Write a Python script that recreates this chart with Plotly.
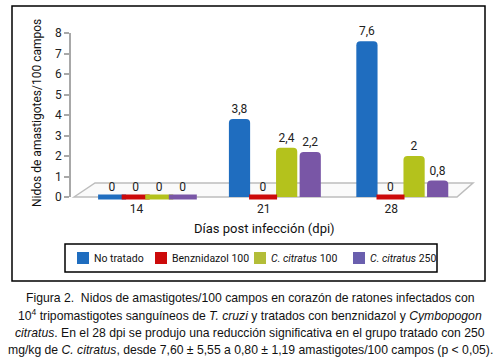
import plotly.graph_objects as go

categories = ["14", "21", "28"]
series_names = ["No tratado", "Benznidazol 100", "<i>C. citratus</i> 100", "<i>C. citratus</i> 250"]
no_tratado = [0, 3.8, 7.6]
benznidazol_100 = [0, 0, 0]
citratus_100 = [0, 2.4, 2.0]
citratus_250 = [0, 2.2, 0.8]
y_ticks = [0, 1, 2, 3, 4, 5, 6, 7, 8]

series_values = [no_tratado, benznidazol_100, citratus_100, citratus_250]
colors = ["#1f6dbf", "#cc0a0a", "#b4c21c", "#7956a6"]
legend_colors = ["#1f6dbf", "#cc0a0a", "#b3bd38", "#6a5fae"]

W, H = 500, 364
ML, MR, MT, MB = 71, 34, 33, 167
PW, PH = W - ML - MR, H - MT - MB


def px(x):
    return (x - ML) / PW


def py(y):
    return (H - MB - y) / PH


FONT = "Roboto, Liberation Sans, sans-serif"

fig = go.Figure()
for name, vals, col in zip(series_names, series_values, colors):
    fig.add_trace(go.Bar(
        x=categories, y=vals, name=name, showlegend=False,
        marker=dict(color=col, line=dict(width=0)),
        text=[("%g" % v).replace(".", ",") for v in vals],
        textposition="outside", cliponaxis=False,
        textfont=dict(family=FONT, size=12, color="#222"),
    ))

for name, vals, col in zip(series_names, series_values, colors):
    zx = [c for c, v in zip(categories, vals) if v == 0]
    zy = [v for v in vals if v == 0]
    fig.add_trace(go.Scatter(
        x=zx, y=zy, mode="markers", showlegend=False, hoverinfo="skip",
        marker=dict(symbol="line-ew", size=20, color=col,
                    line=dict(color=col, width=5)),
        cliponaxis=False,
    ))

shapes = [
    # outer frame
    dict(type="rect", xref="paper", yref="paper",
         x0=px(12), x1=px(485), y0=py(281), y1=py(6),
         line=dict(color="black", width=1.5), layer="below"),
    # 3D floor
    dict(type="path", xref="paper", yref="paper",
         path="M %f %f L %f %f L %f %f L %f %f Z" % (
             px(74), py(197), px(95), py(183), px(473), py(183), px(457), py(197)),
         line=dict(color="#bdbdbd", width=1.5), fillcolor="#fafafa", layer="below"),
    # legend frame
    dict(type="rect", xref="paper", yref="paper",
         x0=px(65), x1=px(437), y0=py(272), y1=py(244),
         line=dict(color="black", width=1.5), fillcolor="white", layer="below"),
]

annotations = [
    dict(text="Días post infección (dpi)", xref="paper", yref="paper",
         x=px(264), y=py(228), showarrow=False, xanchor="center", yanchor="middle",
         font=dict(family=FONT, size=13, color="#111")),
    dict(text="Nidos de amastigotes/100 campos", xref="paper", yref="paper",
         x=px(37), y=py(113), showarrow=False, xanchor="center", yanchor="middle",
         textangle=-90, font=dict(family=FONT, size=12, color="#111")),
]

# legend (swatches + labels)
legend_x = [77, 155, 254, 353]
for name, col, lx in zip(series_names, legend_colors, legend_x):
    shapes.append(dict(type="rect", xref="paper", yref="paper",
                       x0=px(lx), x1=px(lx + 12), y0=py(264), y1=py(252),
                       line=dict(width=0), fillcolor=col))
    annotations.append(dict(text=name, xref="paper", yref="paper",
                            x=px(lx + 15), y=py(258), showarrow=False,
                            xanchor="left", yanchor="middle",
                            font=dict(family=FONT, size=10.5, color="#111")))

caption = [
    "Figura 2.  Nidos de amastigotes/100 campos en corazón de ratones infectados con",
    "10<sup>4</sup> tripomastigotes sanguíneos de <i>T. cruzi</i> y tratados con benznidazol y <i>Cymbopogon</i>",
    "<i>citratus</i>. En el 28 dpi se produjo una reducción significativa en el grupo tratado con 250",
    "mg/kg de <i>C. citratus</i>, desde 7,60 ± 5,55 a 0,80 ± 1,19 amastigotes/100 campos (p &lt; 0,05).",
]
for i, line in enumerate(caption):
    annotations.append(dict(
        text=line, xref="paper", yref="paper", x=px(250), y=py(298 + 17.3 * i),
        showarrow=False, xanchor="center", yanchor="middle",
        font=dict(family="Liberation Sans, Arial, sans-serif", size=12.2, color="#111")))

fig.update_layout(
    width=W, height=H,
    margin=dict(l=ML, r=MR, t=MT, b=MB, autoexpand=False),
    paper_bgcolor="white", plot_bgcolor="rgba(0,0,0,0)",
    barmode="group", bargap=0.26, bargroupgap=0.1, barcornerradius=4,
    scattermode="group", scattergap=0.26,
    separators=",.",
    showlegend=False,
    shapes=shapes, annotations=annotations,
    font=dict(family=FONT, size=12, color="#222"),
)
fig.update_xaxes(range=[-0.6, 2.5], showline=False, showgrid=False, zeroline=False,
                 ticks="", ticklabelshift=-11, ticklabelstandoff=3, automargin=False,
                 tickfont=dict(family=FONT, size=12, color="#222"))
fig.update_yaxes(range=[0, 8], tickvals=y_ticks, showgrid=False, zeroline=False,
                 showline=True, linecolor="#a8a8a8", linewidth=1.5, automargin=False,
                 ticks="outside", ticklen=5, tickcolor="#a8a8a8", tickwidth=1.5,
                 tickfont=dict(family=FONT, size=12, color="#222"))

fig.write_html("out.html", config={"displayModeBar": False},
               post_script="document.body.style.margin='0';")
